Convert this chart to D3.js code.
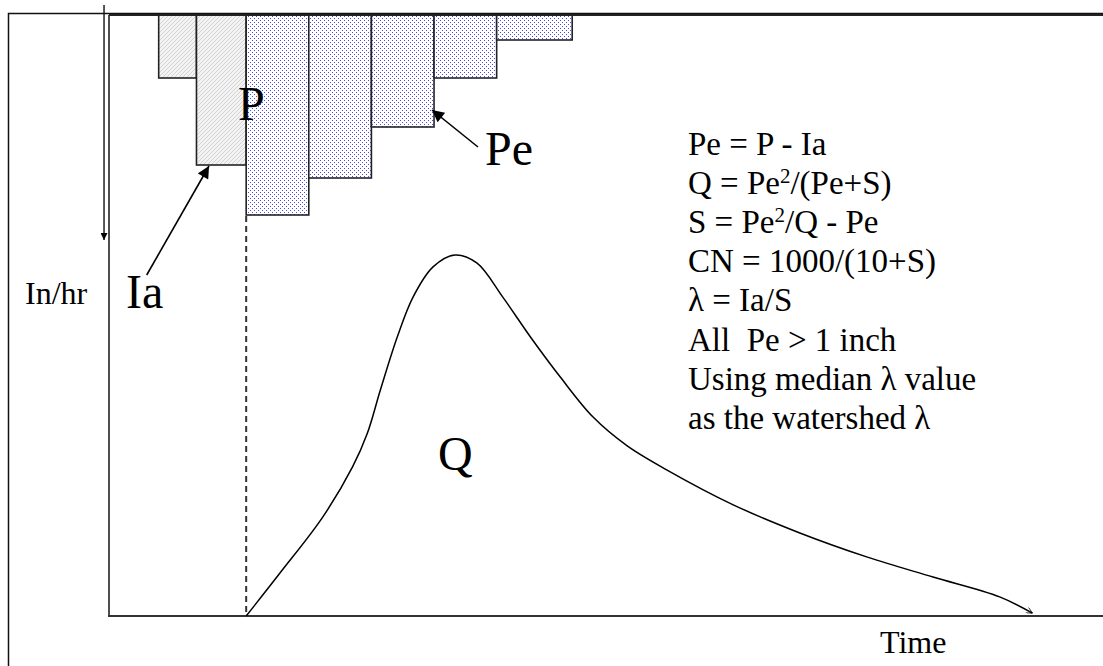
<!DOCTYPE html>
<html lang="en">
<head>
<meta charset="UTF-8" />
<title>Rainfall - runoff sketch</title>
<script src="https://cdn.jsdelivr.net/npm/d3@7"></script>
<style>
  body { margin: 0; background: #fff; }
  text { font-family: "Liberation Serif", "Times New Roman", serif; fill: #000; white-space: pre; }
</style>
</head>
<body>
<script>
// hyetograph: bar edges in time units, rain rate per bar
var barEdges = [50, 88, 138, 201, 264, 327, 390, 466];
var rainRate = [0.63, 1.50, 2.00, 1.63, 1.12, 0.63, 0.25];
var rainPart = ["Ia", "Ia", "Pe", "Pe", "Pe", "Pe", "Pe"];

// runoff hydrograph (relative flow)
var qTime = [138, 172, 215, 245, 260, 273, 290, 306, 326, 348, 370, 396, 424, 454, 487, 521, 561, 628, 695, 763, 829, 896, 929];
var qFlow = [0, 0.119, 0.274, 0.413, 0.507, 0.626, 0.773, 0.884, 0.967, 1.0, 0.978, 0.884, 0.773, 0.662, 0.551, 0.472, 0.405, 0.308, 0.23, 0.163, 0.108, 0.053, 0.008];

var formulaLines = [
  "Pe = P - Ia",
  "Q = Pe^2/(Pe+S)",
  "S = Pe^2/Q - Pe",
  "CN = 1000/(10+S)",
  "\u03bb = Ia/S",
  "All  Pe > 1 inch",
  "Using median \u03bb value",
  "as the watershed \u03bb"
];

var w = 1103, h = 666;
var svg = d3.select("body").append("svg")
  .attr("width", w).attr("height", h)
  .attr("font-family", "Liberation Serif, Times New Roman, serif");

var x = d3.scaleLinear().domain([0, 1000]).range([109, 1103]);
var yRain = d3.scaleLinear().domain([0, 2]).range([15, 215]);
var yQ = d3.scaleLinear().domain([0, 1]).range([616, 255]);

var defs = svg.append("defs");
var hatch = defs.append("pattern").attr("id", "hatch")
  .attr("patternUnits", "userSpaceOnUse").attr("width", 4).attr("height", 4);
hatch.append("rect").attr("width", 4).attr("height", 4).attr("fill", "#f3f3f3");
hatch.append("path").attr("d", "M-1,1 l2,-2 M0,4 l4,-4 M3,5 l2,-2")
  .attr("stroke", "#cfcfcf").attr("stroke-width", 0.9);

var dots = defs.append("pattern").attr("id", "dots")
  .attr("patternUnits", "userSpaceOnUse").attr("width", 4).attr("height", 4);
dots.append("rect").attr("width", 4).attr("height", 4).attr("fill", "#fff");
dots.append("rect").attr("x", 0).attr("y", 0).attr("width", 1).attr("height", 1).attr("fill", "#4a4ae8");
dots.append("rect").attr("x", 2).attr("y", 2).attr("width", 1).attr("height", 1).attr("fill", "#4a4ae8");

defs.append("marker").attr("id", "head")
  .attr("viewBox", "0 0 10 10").attr("refX", 10).attr("refY", 5)
  .attr("markerWidth", 14).attr("markerHeight", 12).attr("markerUnits", "userSpaceOnUse")
  .attr("orient", "auto")
  .append("path").attr("d", "M0,0 L10,5 L0,10 Z").attr("fill", "#000");

defs.append("marker").attr("id", "smallhead")
  .attr("viewBox", "0 0 10 10").attr("refX", 10).attr("refY", 5)
  .attr("markerWidth", 8).attr("markerHeight", 7).attr("markerUnits", "userSpaceOnUse")
  .attr("orient", "auto")
  .append("path").attr("d", "M0,0 L10,5 L0,10 Z").attr("fill", "#000");

defs.append("marker").attr("id", "openhead")
  .attr("viewBox", "0 0 10 10").attr("refX", 10).attr("refY", 5)
  .attr("markerWidth", 8).attr("markerHeight", 6).attr("markerUnits", "userSpaceOnUse")
  .attr("orient", "auto")
  .append("path").attr("d", "M0,0 L10,5 L0,10").attr("fill", "none").attr("stroke", "#000").attr("stroke-width", 1.2);

// outer frame
svg.append("rect").attr("x", 8.5).attr("y", 13.5).attr("width", 1200).attr("height", 1000)
  .attr("fill", "none").attr("stroke", "#111").attr("stroke-width", 1.5);

// rain bars
svg.selectAll("rect.bar")
  .data(rainRate)
  .enter()
  .append("rect")
  .attr("class", "bar")
  .attr("x", function(d, i) { return x(barEdges[i]); })
  .attr("y", yRain(0))
  .attr("width", function(d, i) { return x(barEdges[i + 1]) - x(barEdges[i]); })
  .attr("height", function(d) { return yRain(d) - yRain(0); })
  .attr("fill", function(d, i) { return rainPart[i] == "Ia" ? "url(#hatch)" : "url(#dots)"; })
  .attr("stroke", "#222")
  .attr("stroke-width", 1.6);

// dashed line at the start of runoff
svg.append("line")
  .attr("x1", x(barEdges[2])).attr("x2", x(barEdges[2]))
  .attr("y1", yRain(rainRate[2]) + 1).attr("y2", yQ(0))
  .attr("stroke", "#333").attr("stroke-width", 2).attr("stroke-dasharray", "6,4");

// axes
svg.append("line").attr("x1", x(0)).attr("x2", x(0)).attr("y1", 15).attr("y2", yQ(0))
  .attr("stroke", "#222").attr("stroke-width", 1.6);
svg.append("line").attr("x1", x(0)).attr("x2", w).attr("y1", 15).attr("y2", 15)
  .attr("stroke", "#222").attr("stroke-width", 2.2);
svg.append("line").attr("x1", x(0) - 1).attr("x2", w).attr("y1", yQ(0)).attr("y2", yQ(0))
  .attr("stroke", "#333").attr("stroke-width", 2.2);

// downward intensity arrow
svg.append("line").attr("x1", x(-5)).attr("x2", x(-5)).attr("y1", 5).attr("y2", 240)
  .attr("stroke", "#111").attr("stroke-width", 1.4).attr("marker-end", "url(#smallhead)");

// hydrograph
var line = d3.line()
  .x(function(d, i) { return x(qTime[i]); })
  .y(function(d) { return yQ(d); })
  .curve(d3.curveCatmullRom.alpha(0.5));
svg.append("path").datum(qFlow)
  .attr("d", line)
  .attr("fill", "none").attr("stroke", "#000").attr("stroke-width", 1.5)
  .attr("marker-end", "url(#openhead)");

// pointer arrows
svg.append("line")
  .attr("x1", 146.7).attr("y1", 275).attr("x2", 209).attr("y2", yRain(rainRate[1]) + 1)
  .attr("stroke", "#000").attr("stroke-width", 1.6).attr("marker-end", "url(#head)");
svg.append("line")
  .attr("x1", 478).attr("y1", 147).attr("x2", x(barEdges[5]) - 2).attr("y2", 110)
  .attr("stroke", "#000").attr("stroke-width", 1.6).attr("marker-end", "url(#head)");

// labels
function label(t, lx, ly, size) {
  svg.append("text").attr("x", lx).attr("y", ly).attr("font-size", size).text(t);
}
label("P", 238, 120, 48);
label("Pe", 485, 165, 48);
label("Ia", 126, 308, 48);
label("Q", 438, 470, 48);
label("In/hr", 25, 304, 32);
label("Time", 880, 653, 32);

// formula block
var block = svg.append("g").attr("transform", "translate(688,155)");
formulaLines.forEach(function(s, i) {
  var t = block.append("text").attr("x", 0).attr("y", i * 39.1).attr("font-size", 33)
    .attr("xml:space", "preserve");
  var parts = s.split("^2");
  parts.forEach(function(p, j) {
    var ts = t.append("tspan").text(p);
    if (j > 0) ts.attr("dy", 11);
    if (j < parts.length - 1) {
      t.append("tspan").attr("font-size", 21).attr("dy", -11).text("2");
    }
  });
});
</script>
</body>
</html>
